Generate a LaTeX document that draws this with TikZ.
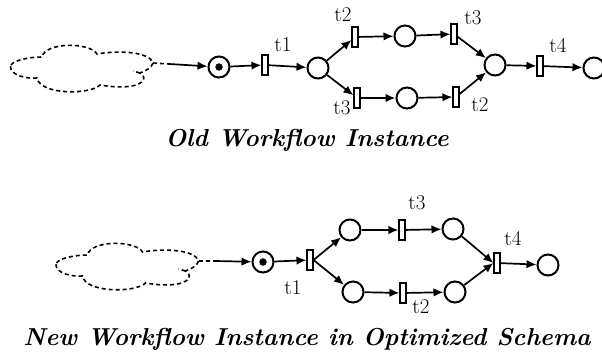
\documentclass[tikz,border=0pt]{standalone}
\usetikzlibrary{arrows.meta}
\begin{document}
\begin{tikzpicture}[x=1pt,y=-1pt,
  place/.style={circle,draw,line width=2pt,minimum size=21pt,inner sep=0pt},
  trans/.style={rectangle,draw,line width=1.6pt,fill=white,minimum width=5.5pt,minimum height=20.5pt,inner sep=0pt},
  tok/.style={circle,fill,minimum size=7.5pt,inner sep=0pt},
  arc/.style={-{Latex[length=10pt,width=8.5pt]},line width=1.7pt},
  lbl/.style={font=\fontsize{21}{23}\selectfont,inner sep=0pt},
  ttl/.style={font=\fontsize{24.5}{28}\selectfont\bfseries\itshape,inner sep=0pt,anchor=base},
  lnk/.style={line width=1.6pt,dash pattern=on 4pt off 3pt},
  blob/.pic={
    \draw[lnk] (11,65) .. controls (14,60) and (30,57) .. (42,57)
      .. controls (45,42) and (90,42) .. (97,54)
      .. controls (120,50) and (150,52) .. (153,63)
      .. controls (152,68) and (145,71) .. (140,73)
      .. controls (150,78) and (142,92) .. (100,85)
      .. controls (90,95) and (40,95) .. (37,78)
      .. controls (20,79) and (8,72) .. (11,65);
    \draw[lnk] (140,73) -- (133,71);
    \coordinate (-tip) at (153,63);
  }
]
\useasboundingbox (0,0) rectangle (602,356);

% ---------- old instance ----------
\pic (c1) at (0,0) {blob};
\coordinate (s1) at (169,64);
\node[place] (p0) at (219,67) {};
\node[tok] at (p0) {};
\node[trans] (t1) at (265,65) {};
\node[place] (p1) at (318,68) {};
\node[trans] (t2u) at (355,37) {};
\node[place] (pu) at (405,36) {};
\node[trans] (t3u) at (454,34) {};
\node[trans] (t3l) at (357,98) {};
\node[place] (pl) at (407,98) {};
\node[trans] (t2l) at (456,97) {};
\node[place] (p4) at (495,65) {};
\node[trans] (t4) at (540,66) {};
\node[place] (pend) at (594,68) {};

\node[lbl] (l1) at (283,45) {t1};
\node[lbl] (l2) at (343,15) {t2};
\node[lbl] (l3) at (473,18) {t3};
\node[lbl] (l4) at (342,108) {t3};
\node[lbl] (l5) at (480,105) {t2};
\node[lbl] (l6) at (558,46) {t4};

\draw[lnk] (c1-tip) -- (s1);
\draw[arc] (s1) -- (p0);
\draw[arc] (p0) -- (t1);
\draw[arc] (t1) -- (p1);
\draw[arc] (p1) -- (t2u);
\draw[arc] (p1) -- (t3l);
\draw[arc] (t2u) -- (pu);
\draw[arc] (t3l) -- (pl);
\draw[arc] (pu) -- (t3u);
\draw[arc] (pl) -- (t2l);
\draw[arc] (t3u) -- (p4);
\draw[arc] (t2l) -- (p4);
\draw[arc] (p4) -- (t4);
\draw[arc] (t4) -- (pend);

\node[ttl] (title1) at (307,146) {Old Workflow Instance};

% ---------- new instance ----------
\pic (c2) at (45.5,198) {blob};
\coordinate (s2) at (215,261);
\node[place] (q0) at (263,262) {};
\node[tok] at (q0) {};
\node[trans] (bt1) at (310,260) {};
\node[place] (qu1) at (350,230) {};
\node[trans] (btu) at (402,230) {};
\node[place] (qu2) at (453,229) {};
\node[place] (ql1) at (353,292) {};
\node[trans] (btl) at (403,293) {};
\node[place] (ql2) at (455,292) {};
\node[trans] (bt4) at (497,263) {};
\node[place] (qend) at (548,265) {};

\node[lbl] (m1) at (293,288) {t1};
\node[lbl] (m2) at (417,203) {t3};
\node[lbl] (m3) at (421,307) {t2};
\node[lbl] (m4) at (513,239) {t4};

\draw[lnk] (c2-tip) -- (s2);
\draw[arc] (s2) -- (q0);
\draw[arc] (q0) -- (bt1);
\draw[arc] (bt1.east) -- (qu1);
\draw[arc] (bt1.east) -- (ql1);
\draw[arc] (qu1) -- (btu);
\draw[arc] (btu) -- (qu2);
\draw[arc] (ql1) -- (btl);
\draw[arc] (btl) -- (ql2);
\draw[arc] (qu2) -- (bt4.west);
\draw[arc] (ql2) -- (bt4.west);
\draw[arc] (bt4) -- (qend);

\node[ttl] (title2) at (307,345) {New Workflow Instance in Optimized Schema};
\end{tikzpicture}
\end{document}
